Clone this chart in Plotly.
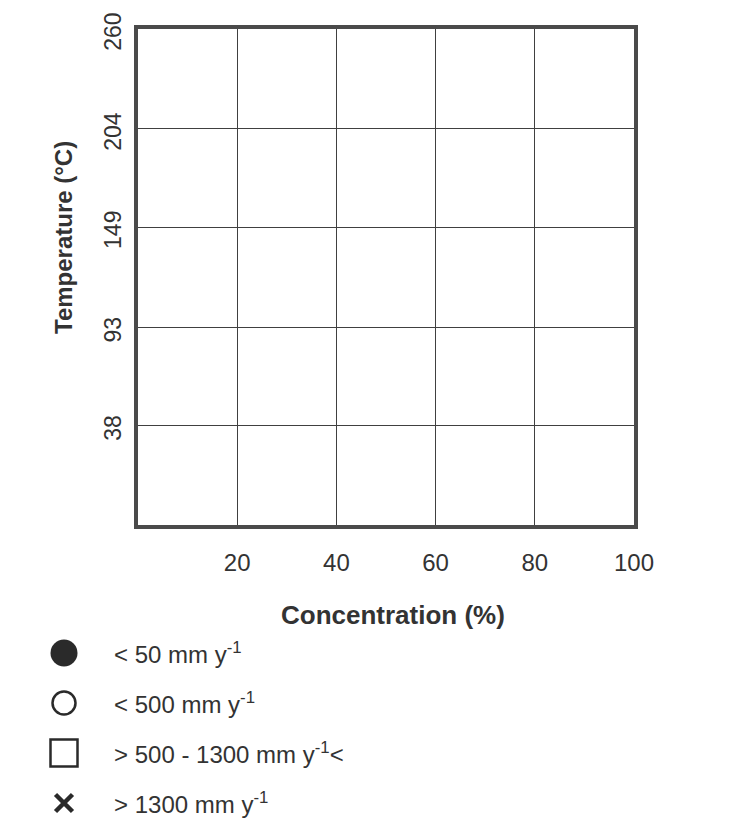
import plotly.graph_objects as go

# ---- data ----
x_tick_vals = [20, 40, 60, 80, 100]
x_tick_text = ["20", "40", "60", "80", "100"]
y_tick_vals = [38, 93, 149, 204, 260]
y_tick_text = ["38", "93", "149", "204", "260"]
x_range = [0, 100]
y_range = [-17.8, 260]

legend_rows = [0, 1, 2, 3]
legend_symbols = ["circle", "circle-open", "square-open", "x-thin-open"]
legend_labels = [
    "< 50 mm y<sup>-1</sup>",
    "< 500 mm y<sup>-1</sup>",
    "> 500 - 1300 mm y<sup>-1</sup><",
    "> 1300 mm y<sup>-1</sup>",
]

W, H = 744, 828
INK = "#333333"
FONT = "Liberation Sans, Arial, sans-serif"
OFF = 8  # page body margin offset

# plot box in pixels (page coordinates minus body offset)
L, R, T, B = 138 - OFF, 634 - OFF, 29 - OFF, 525 - OFF

fig = go.Figure()

# invisible trace to establish main axes
fig.add_trace(go.Scatter(x=x_range, y=y_range, mode="markers",
                         marker=dict(opacity=0), hoverinfo="skip",
                         showlegend=False, xaxis="x", yaxis="y"))

# legend symbols
fig.add_trace(go.Scatter(
    x=[0.5] * len(legend_rows), y=legend_rows, mode="markers",
    marker=dict(symbol=legend_symbols, size=[27, 23, 27, 17], opacity=1,
                color="#2a2a2a", line=dict(color="#2a2a2a", width=[0, 2.5, 2.5, 4.5])),
    hoverinfo="skip", showlegend=False, xaxis="x2", yaxis="y2"))

axis_line = dict(showline=True, linecolor="#4a4a4a", linewidth=4, mirror=True,
                 showgrid=True, gridcolor="#404040", gridwidth=1.3,
                 zeroline=False, fixedrange=True, automargin=False,
                 ticklabeloverflow="allow")

leg_top = 628 - OFF

fig.update_layout(
    width=W, height=H,
    margin=dict(l=0, r=0, t=0, b=0, pad=0, autoexpand=False),
    paper_bgcolor="white", plot_bgcolor="white",
    font=dict(family=FONT, color=INK),
    showlegend=False,
    xaxis=dict(domain=[L / W, R / W], range=x_range, anchor="y",
               tickmode="array", tickvals=x_tick_vals, ticktext=x_tick_text,
               tickfont=dict(size=24, color=INK),
               ticks="outside", ticklen=13, tickcolor="rgba(0,0,0,0)",
               **axis_line),
    yaxis=dict(domain=[1 - B / H, 1 - T / H], range=y_range, anchor="x",
               tickmode="array", tickvals=y_tick_vals, ticktext=y_tick_text,
               tickfont=dict(size=23, color=INK), tickangle=-90,
               ticklabelshift=6,
               ticks="outside", ticklen=4, tickcolor="rgba(0,0,0,0)",
               **axis_line),
    xaxis2=dict(domain=[(64 - OFF - 20) / W, (64 - OFF + 20) / W], range=[0, 1],
                anchor="y2", visible=False, fixedrange=True, automargin=False),
    yaxis2=dict(domain=[1 - (leg_top + 200) / H, 1 - leg_top / H], range=[3.5, -0.5],
                anchor="x2", visible=False, fixedrange=True, automargin=False),
)

annotations = [
    dict(text="<b>Concentration (%)</b>", x=(393 - OFF) / W, y=1 - (615 - OFF) / H,
         xref="paper", yref="paper", showarrow=False,
         font=dict(size=26, color=INK, family=FONT),
         xanchor="center", yanchor="middle"),
    dict(text="<b>Temperature (°C)</b>", x=(63 - OFF) / W, y=1 - (238 - OFF) / H,
         xref="paper", yref="paper", showarrow=False, textangle=-90,
         font=dict(size=24, color=INK, family=FONT),
         xanchor="center", yanchor="middle"),
]
for row, lab in zip(legend_rows, legend_labels):
    annotations.append(dict(text=lab, x=(112 - OFF) / W, y=row, xref="paper", yref="y2",
                            showarrow=False, xanchor="left", yanchor="middle",
                            font=dict(size=24, color=INK, family=FONT)))
fig.update_layout(annotations=annotations)

fig.write_html("out.html")
